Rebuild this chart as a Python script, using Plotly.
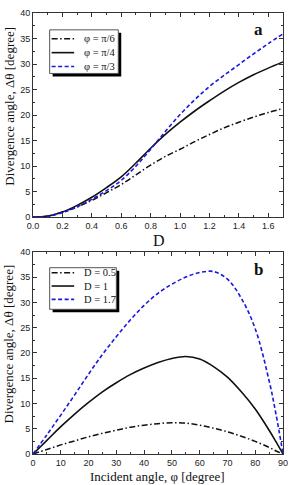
import plotly.graph_objects as go

# ---------------- data ----------------
D_values = [0.0, 0.1, 0.2, 0.3, 0.4, 0.5, 0.6, 0.7, 0.8, 0.9, 1.0, 1.1, 1.2, 1.3, 1.4, 1.5, 1.6, 1.7]
dtheta_pi6 = [0, 0.2, 1.0, 2.0, 3.3, 4.8, 6.4, 8.3, 10.2, 11.9, 13.3, 14.8, 16.2, 17.5, 18.6, 19.6, 20.5, 21.3]
dtheta_pi4 = [0, 0.2, 1.0, 2.3, 3.9, 5.8, 7.9, 10.6, 13.5, 16.2, 18.6, 20.8, 22.8, 24.7, 26.4, 27.9, 29.2, 30.4]
dtheta_pi3 = [0, 0.15, 0.9, 2.0, 3.5, 5.2, 7.2, 10.0, 13.3, 16.8, 20.1, 23.0, 25.6, 27.8, 29.9, 32.0, 34.0, 35.9]
labels_a = ["φ = π/6", "φ = π/4", "φ = π/3"]

phi_values = [0, 5, 10, 15, 20, 25, 30, 35, 40, 45, 50, 55, 60, 65, 70, 75, 80, 85, 87.5, 90]
dtheta_D05 = [0, 0.9, 1.8, 2.6, 3.4, 4.1, 4.7, 5.3, 5.7, 6.0, 6.2, 6.1, 5.7, 5.1, 4.4, 3.5, 2.5, 1.3, 0.6, 0]
dtheta_D1 = [0, 2.7, 5.4, 7.9, 10.2, 12.3, 14.1, 15.7, 17.0, 18.1, 18.9, 19.3, 18.8, 17.3, 15.2, 12.3, 8.9, 4.7, 2.4, 0]
dtheta_D17 = [0, 3.8, 7.7, 11.7, 15.8, 19.7, 23.2, 26.5, 29.4, 31.8, 33.6, 35.0, 35.9, 36.1, 34.6, 30.8, 24.8, 14.5, 7.8, 0]
labels_b = ["D = 0.5", "D = 1", "D = 1.7"]

# ---------------- geometry helpers ----------------
W, H = 296, 485
ML, MR, MT, MB = 33, 8, 9, 31
PW, PH = W - ML - MR, H - MT - MB


def px_x(p):
    return (p - ML) / PW


def px_y(p):
    return (H - MB - p) / PH


BLACK = "#111111"
BLUE = "#1818e0"
styles = [
    dict(color=BLACK, width=1.5, dash="6px,2.5px,1.5px,2.5px"),
    dict(color=BLACK, width=1.6, dash="solid"),
    dict(color=BLUE, width=1.6, dash="4px,2.5px"),
]

fig = go.Figure()

for ys, lab, st in zip([dtheta_pi6, dtheta_pi4, dtheta_pi3], labels_a, styles):
    fig.add_trace(go.Scatter(x=D_values, y=ys, mode="lines", name=lab, line=st,
                             line_shape="spline", showlegend=False, xaxis="x", yaxis="y"))

for ys, lab, st in zip([dtheta_D05, dtheta_D1, dtheta_D17], labels_b, styles):
    fig.add_trace(go.Scatter(x=phi_values, y=ys, mode="lines", name=lab, line=st,
                             line_shape="spline", showlegend=False, xaxis="x2", yaxis="y2"))

tickfont = dict(family="Liberation Sans, Arial", size=9, color="#222222")
axis_common = dict(
    showline=True, linecolor="#333333", linewidth=1, mirror="ticks",
    ticks="inside", ticklen=4, tickwidth=1, tickcolor="#333333",
    showgrid=False, zeroline=False, tickfont=tickfont,
)

top_dom = [px_y(215), 1.0]
bot_dom = [0.0, px_y(250)]

fig.update_layout(
    width=W, height=H,
    margin=dict(l=ML, r=MR, t=MT, b=MB),
    paper_bgcolor="white", plot_bgcolor="white",
    showlegend=False,
    xaxis=dict(domain=[0, 1], range=[0, 1.7], tickvals=[0, 0.2, 0.4, 0.6, 0.8, 1.0, 1.2, 1.4, 1.6],
               ticktext=["0.0", "0.2", "0.4", "0.6", "0.8", "1.0", "1.2", "1.4", "1.6"],
               minor=dict(dtick=0.1, tick0=0, ticks="inside", ticklen=2, tickcolor="#333333"),
               anchor="y", **axis_common),
    yaxis=dict(domain=top_dom, range=[0, 40], dtick=5, tick0=0,
               minor=dict(dtick=2.5, tick0=0, ticks="inside", ticklen=2, tickcolor="#333333"),
               anchor="x", **axis_common),
    xaxis2=dict(domain=[0, 1], range=[0, 90], dtick=10, tick0=0,
                minor=dict(dtick=5, tick0=0, ticks="inside", ticklen=2, tickcolor="#333333"),
                anchor="y2", **axis_common),
    yaxis2=dict(domain=bot_dom, range=[0, 40], dtick=5, tick0=0,
                minor=dict(dtick=2.5, tick0=0, ticks="inside", ticklen=2, tickcolor="#333333"),
                anchor="x2", **axis_common),
)

serif = "Liberation Serif, Times New Roman, serif"
ann = []
# axis titles
ann.append(dict(text="Divergence angle, Δθ [degree]", x=px_x(9), y=px_y(103), textangle=-90,
                font=dict(family=serif, size=13, color=BLACK)))
ann.append(dict(text="Divergence angle, Δθ [degree]", x=px_x(9), y=px_y(343), textangle=-90,
                font=dict(family=serif, size=13, color=BLACK)))
ann.append(dict(text="D", x=px_x(162), y=px_y(228), yanchor="top", font=dict(family=serif, size=16, color=BLACK)))
ann.append(dict(text="Incident angle, φ [degree]", x=px_x(160), y=px_y(467), yanchor="top",
                font=dict(family=serif, size=13, color=BLACK)))
# panel letters
ann.append(dict(text="<b>a</b>", x=px_x(263), y=px_y(26), font=dict(family=serif, size=17, color=BLACK)))
ann.append(dict(text="<b>b</b>", x=px_x(263), y=px_y(268), font=dict(family=serif, size=17, color=BLACK)))

shapes = []


def legend_box(x0, y0, x1, y1, rows, labels):
    # shadow
    shapes.append(dict(type="rect", xref="paper", yref="paper", x0=px_x(x0 + 3), x1=px_x(x1 + 3),
                       y0=px_y(y1 + 3), y1=px_y(y0 + 3), fillcolor="black", line=dict(width=0), layer="above"))
    # frame
    shapes.append(dict(type="rect", xref="paper", yref="paper", x0=px_x(x0), x1=px_x(x1),
                       y0=px_y(y1), y1=px_y(y0), fillcolor="white",
                       line=dict(color="#555555", width=1), layer="above"))
    for r, lab, st in zip(rows, labels, styles):
        shapes.append(dict(type="line", xref="paper", yref="paper", x0=px_x(x0 + 2), x1=px_x(x0 + 25),
                           y0=px_y(r), y1=px_y(r), line=dict(color=st["color"], width=st["width"], dash=st["dash"]),
                           layer="above"))
        ann.append(dict(text=lab, x=px_x(x0 + 33), y=px_y(r), xanchor="left",
                        font=dict(family=serif, size=10.5, color=BLACK)))


legend_box(50, 26, 120, 70, [35, 49, 63], labels_a)
legend_box(50, 266, 118, 308, [271, 284.5, 298], labels_b)

for a in ann:
    a.setdefault("xref", "paper")
    a.setdefault("yref", "paper")
    a.setdefault("showarrow", False)
    a.setdefault("xanchor", "center")
    a.setdefault("yanchor", "middle")

fig.update_layout(annotations=ann, shapes=shapes)

fig.write_html("out.html", config={"displayModeBar": False},
               post_script="document.body.style.margin='0';document.body.style.padding='0';")
